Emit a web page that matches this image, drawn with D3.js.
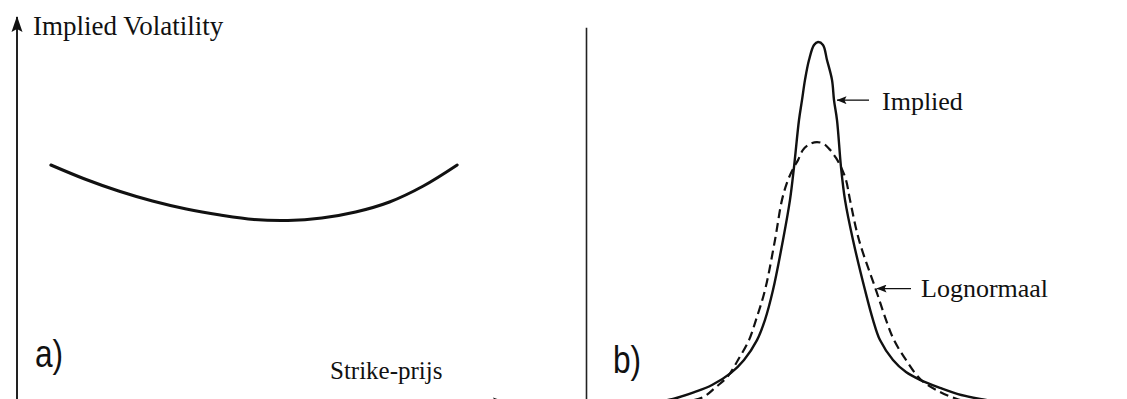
<!DOCTYPE html>
<html>
<head>
<meta charset="utf-8">
<script src="https://cdn.jsdelivr.net/npm/d3@7"></script>
<style>
  html, body { margin: 0; padding: 0; background: #fff; }
  svg { display: block; }
  .lbl { font-family: "Liberation Serif", "Times New Roman", serif; fill: #111; }
  .tag { font-family: "Liberation Sans", Arial, sans-serif; fill: #111; }
</style>
</head>
<body>
<div id="chart"></div>
<script>
// a) volatility smile: strike vs implied vol (%)
const smileStrikes = [70, 75, 80, 85, 90, 95, 100, 105, 110, 115, 120, 125, 130];
const smileVols = [23.4, 22.0, 20.8, 19.8, 19.0, 18.4, 17.95, 17.85, 18.1, 18.7, 19.7, 21.3, 23.4];

// b) implied distribution (fat tails, high peak)
const impliedStrikes = [55.75, 64, 69.5, 73.75, 78.5, 81.75, 85, 87, 89, 91.5, 93.25, 94.25, 95.5, 96.25, 97, 98, 99.25, 100.25,
  101.5, 102.5, 103.75, 104.25, 105, 106, 107, 109, 112, 114, 115.75, 119, 122.25, 125.75, 130.75, 135.25, 140.75, 150.75];
const impliedDensity = [0.016, 0.030, 0.049, 0.068, 0.101, 0.136, 0.190, 0.245, 0.326, 0.462, 0.571, 0.660, 0.788, 0.842, 0.897, 0.951, 0.992, 1.0,
  0.992, 0.951, 0.897, 0.842, 0.788, 0.660, 0.571, 0.462, 0.326, 0.245, 0.190, 0.136, 0.103, 0.082, 0.060, 0.043, 0.030, 0.014];

// b) lognormal distribution (dashed)
const lognormStrikes = [65.75, 71.5, 74.75, 77.75, 80.25, 83, 84.75, 87, 89.5, 91.25, 92.75, 94.25, 95.25, 96.5, 98.25, 100,
  101.75, 103.25, 104.75, 106, 107.25, 108.25, 110.5, 114.75, 117.25, 119.25, 122.25, 126, 130.75, 135, 139.5];
const lognormDensity = [0.019, 0.035, 0.0625, 0.092, 0.136, 0.190, 0.245, 0.326, 0.462, 0.571, 0.625, 0.660, 0.679, 0.707, 0.723, 0.728,
  0.723, 0.707, 0.685, 0.660, 0.625, 0.571, 0.462, 0.326, 0.245, 0.190, 0.136, 0.082, 0.049, 0.030, 0.016];

const W = 1127, H = 399;

const svg = d3.select('#chart').append('svg')
    .attr('width', W)
    .attr('height', H);

const defs = svg.append('defs');

// filled arrowhead for the axes
defs.append('marker')
    .attr('id', 'axisHead')
    .attr('viewBox', '0 0 16 12')
    .attr('refX', 15).attr('refY', 6)
    .attr('markerWidth', 16).attr('markerHeight', 12)
    .attr('markerUnits', 'userSpaceOnUse')
    .attr('orient', 'auto')
  .append('path')
    .attr('d', 'M0,0.5 L16,6 L0,11.5 L3,6 Z')
    .attr('fill', '#111');

// small arrowhead for the annotation pointers
defs.append('marker')
    .attr('id', 'noteHead')
    .attr('viewBox', '0 0 10 8')
    .attr('refX', 9.5).attr('refY', 4)
    .attr('markerWidth', 10).attr('markerHeight', 8)
    .attr('markerUnits', 'userSpaceOnUse')
    .attr('orient', 'auto')
  .append('path')
    .attr('d', 'M0,0 L10,4 L0,8 L2,4 Z')
    .attr('fill', '#111');

// ─── Panel a: implied volatility smile ──────────────────────────────────────
const xA = d3.scaleLinear().domain([65, 137.5]).range([17, 508]);
const yA = d3.scaleLinear().domain([-0.4, 38.2]).range([403, 17]);

const gA = svg.append('g');

// vertical axis with arrow on top
gA.append('g')
    .attr('transform', `translate(${xA(65)},0)`)
    .call(d3.axisLeft(yA).tickValues([]).tickSizeOuter(0))
    .call(g => g.select('.domain')
        .attr('stroke', '#222').attr('stroke-width', 2)
        .attr('d', `M0,${yA(-0.4)}V${yA(38.2)}`)
        .attr('marker-end', 'url(#axisHead)'));

// horizontal axis (mostly below the frame, head peeks in)
gA.append('g')
    .attr('transform', `translate(0,${yA(-0.4)})`)
    .call(d3.axisBottom(xA).tickValues([]).tickSizeOuter(0))
    .call(g => g.select('.domain')
        .attr('stroke', '#222').attr('stroke-width', 2)
        .attr('d', `M${xA(65)},0H${xA(137.5)}`)
        .attr('marker-end', 'url(#axisHead)'));

const smileLine = d3.line()
    .x((d, i) => xA(smileStrikes[i]))
    .y(d => yA(d))
    .curve(d3.curveCatmullRom.alpha(0.5));

gA.append('path')
    .datum(smileVols)
    .attr('d', smileLine)
    .attr('fill', 'none')
    .attr('stroke', '#111')
    .attr('stroke-width', 3)
    .attr('stroke-linecap', 'round');

gA.append('text')
    .attr('class', 'lbl')
    .attr('x', 33).attr('y', 35)
    .style('font-size', '27px')
    .text('Implied Volatility');

gA.append('text')
    .attr('class', 'lbl')
    .attr('x', 330).attr('y', 379)
    .style('font-size', '25px')
    .text('Strike-prijs');

// panel tag, slightly condensed
gA.append('text')
    .attr('class', 'tag')
    .attr('transform', 'translate(35,367) scale(0.88,1.08)')
    .style('font-size', '36px')
    .text('a)');

// ─── Panel b: implied vs lognormal distribution ─────────────────────────────
const xB = d3.scaleLinear().domain([50, 150]).range([617, 1017]);
const yB = d3.scaleLinear().domain([0, 1]).range([410, 42]);

const gB = svg.append('g');

// left axis of panel b (divider)
const yBAxis = d3.scaleLinear().domain([0, 1.04]).range([yB(0), yB(1.04)]);
gB.append('g')
    .attr('transform', 'translate(586,0)')
    .call(d3.axisLeft(yBAxis).tickValues([]).tickSizeOuter(0))
    .call(g => g.select('.domain').attr('stroke', '#222').attr('stroke-width', 1.6));

const densLine = (ks) => d3.line()
    .x((d, i) => xB(ks[i]))
    .y(d => yB(d))
    .curve(d3.curveCatmullRom.alpha(0.5));

gB.append('path')
    .datum(lognormDensity)
    .attr('d', densLine(lognormStrikes))
    .attr('fill', 'none')
    .attr('stroke', '#111')
    .attr('stroke-width', 2.2)
    .attr('stroke-dasharray', '9,5');

gB.append('path')
    .datum(impliedDensity)
    .attr('d', densLine(impliedStrikes))
    .attr('fill', 'none')
    .attr('stroke', '#111')
    .attr('stroke-width', 2.4);

// pointers: tail strike, tip strike, density level, label position
const notes = [
    { text: 'Implied', from: 113, to: 105, level: 0.842, tx: 882, ty: 110 },
    { text: 'Lognormaal', from: 123.5, to: 115, level: 0.33, tx: 921, ty: 297 }
];

notes.forEach(n => {
    gB.append('line')
        .attr('x1', xB(n.from)).attr('y1', yB(n.level))
        .attr('x2', xB(n.to)).attr('y2', yB(n.level))
        .attr('stroke', '#111')
        .attr('stroke-width', 1.3)
        .attr('marker-end', 'url(#noteHead)');
    gB.append('text')
        .attr('class', 'lbl')
        .attr('x', n.tx).attr('y', n.ty)
        .style('font-size', '26px')
        .text(n.text);
});

gB.append('text')
    .attr('class', 'tag')
    .attr('transform', 'translate(613,373) scale(0.88,1.08)')
    .style('font-size', '36px')
    .text('b)');
</script>
</body>
</html>
